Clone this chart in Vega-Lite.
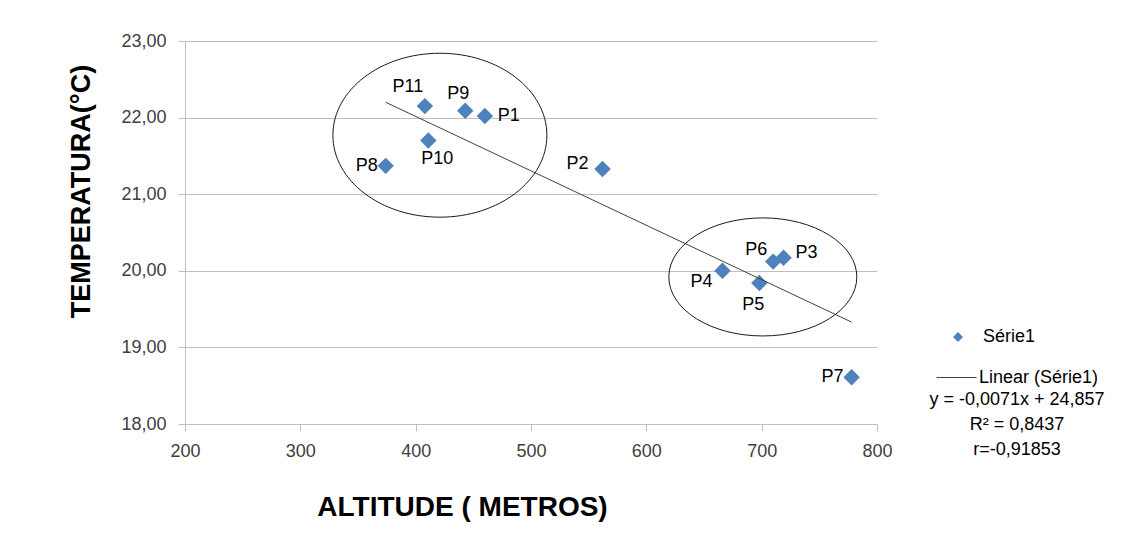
{
  "$schema": "https://vega.github.io/schema/vega-lite/v6.json",
  "width": 692,
  "height": 383,
  "autosize": {"type": "none"},
  "padding": {"left": 185, "top": 41, "right": 249, "bottom": 109},
  "background": "white",
  "config": {"view": {"stroke": null}, "font": "Liberation Sans"},
  "datasets": {
    "pontos": [
      {"ponto": "P1", "altitude": 460, "temperatura": 22.02, "serie": "Série1"},
      {"ponto": "P2", "altitude": 562, "temperatura": 21.33, "serie": "Série1"},
      {"ponto": "P3", "altitude": 719, "temperatura": 20.17, "serie": "Série1"},
      {"ponto": "P4", "altitude": 666, "temperatura": 20.00, "serie": "Série1"},
      {"ponto": "P5", "altitude": 698, "temperatura": 19.84, "serie": "Série1"},
      {"ponto": "P6", "altitude": 710, "temperatura": 20.12, "serie": "Série1"},
      {"ponto": "P7", "altitude": 778, "temperatura": 18.61, "serie": "Série1"},
      {"ponto": "P8", "altitude": 374, "temperatura": 21.37, "serie": "Série1"},
      {"ponto": "P9", "altitude": 443, "temperatura": 22.09, "serie": "Série1"},
      {"ponto": "P10", "altitude": 411, "temperatura": 21.70, "serie": "Série1"},
      {"ponto": "P11", "altitude": 408, "temperatura": 22.15, "serie": "Série1"}
    ],
    "tendencia": [
      {"altitude": 374, "temperatura": 22.20, "serie": "Linear (Série1)"},
      {"altitude": 778, "temperatura": 19.33, "serie": "Linear (Série1)"}
    ],
    "elipses": [
      {"grupo": "A", "altitude": 421, "temperatura": 21.77},
      {"grupo": "B", "altitude": 701, "temperatura": 19.92}
    ]
  },
  "data": {"name": "pontos"},
  "encoding": {
    "x": {
      "field": "altitude", "type": "quantitative",
      "scale": {"domain": [200, 800], "nice": false, "zero": false},
      "axis": {
        "values": [200, 300, 400, 500, 600, 700, 800],
        "grid": false, "labelFlush": false,
        "domainColor": "#BFBFBF", "tickColor": "#BFBFBF", "tickSize": 7,
        "labelFontSize": 18, "labelColor": "#404040", "labelPadding": 11,
        "title": "ALTITUDE ( METROS)", "titleFontSize": 28, "titleFontWeight": "bold",
        "titleColor": "#000000", "titleX": 277, "titleY": 91,
        "titleBaseline": "alphabetic", "titleAlign": "center"
      }
    },
    "y": {
      "field": "temperatura", "type": "quantitative",
      "scale": {"domain": [18, 23], "nice": false, "zero": false},
      "axis": {
        "values": [18, 19, 20, 21, 22, 23],
        "grid": true, "gridColor": "#BFBFBF", "labelFlush": false,
        "domainColor": "#BFBFBF", "tickColor": "#BFBFBF", "tickSize": 7,
        "labelPadding": 12, "labelFontSize": 18, "labelColor": "#404040",
        "labelExpr": "replace(format(datum.value, '.2f'), '.', ',')",
        "title": "TEMPERATURA(°C)", "titleFontSize": 27, "titleFontWeight": "bold",
        "titleColor": "#000000", "titleX": -96, "titleY": 150, "titleAngle": 270,
        "titleBaseline": "alphabetic", "titleAlign": "center"
      }
    }
  },
  "layer": [
    {
      "mark": {"type": "point", "shape": "diamond", "filled": true, "size": 270, "opacity": 1, "strokeWidth": 0},
      "encoding": {
        "color": {
          "field": "serie", "type": "nominal",
          "scale": {"domain": ["Série1"], "range": ["#4F81BD"]},
          "legend": {
            "orient": "none", "legendX": 764, "legendY": 287, "title": null,
            "symbolType": "diamond", "symbolSize": 100, "symbolStrokeWidth": 0,
            "labelFontSize": 18, "labelColor": "#000000", "labelOffset": 16, "padding": 0
          }
        }
      }
    },
    {
      "data": {"name": "tendencia"},
      "mark": {"type": "line", "strokeWidth": 1},
      "encoding": {
        "color": {
          "field": "serie", "type": "nominal",
          "scale": {"domain": ["Linear (Série1)"], "range": ["#404040"]},
          "legend": {
            "orient": "none", "legendX": 744, "legendY": 316,
            "title": ["y = -0,0071x + 24,857", "R² = 0,8437", "r=-0,91853"],
            "titleOrient": "bottom", "titleAnchor": "middle", "titleAlign": "center",
            "titleFontSize": 18, "titleFontWeight": "normal", "titleColor": "#000000",
            "titleLineHeight": 25, "titlePadding": 4,
            "symbolType": "stroke", "symbolSize": 1600, "symbolStrokeWidth": 1,
            "symbolStrokeColor": "#404040",
            "labelFontSize": 18, "labelColor": "#000000", "labelOffset": 2, "padding": 0
          }
        }
      }
    },
    {
      "data": {"name": "elipses"},
      "transform": [{"filter": "datum.grupo == 'A'"}],
      "mark": {
        "type": "point",
        "shape": "M1,0C1,0.423,0.552,0.766,0,0.766C-0.552,0.766,-1,0.423,-1,0C-1,-0.423,-0.552,-0.766,0,-0.766C0.552,-0.766,1,-0.423,1,0Z",
        "size": 45796, "filled": false, "stroke": "#1a1a1a", "strokeWidth": 1, "opacity": 1
      }
    },
    {
      "data": {"name": "elipses"},
      "transform": [{"filter": "datum.grupo == 'B'"}],
      "mark": {
        "type": "point",
        "shape": "M1,0C1,0.347,0.552,0.628,0,0.628C-0.552,0.628,-1,0.347,-1,0C-1,-0.347,-0.552,-0.628,0,-0.628C0.552,-0.628,1,-0.347,1,0Z",
        "size": 35344, "filled": false, "stroke": "#1a1a1a", "strokeWidth": 1, "opacity": 1
      }
    },
    {"transform": [{"filter": "datum.ponto == 'P11'"}], "mark": {"type": "text", "fontSize": 18, "color": "#000000", "baseline": "middle", "align": "center", "dx": -17, "dy": -19}, "encoding": {"text": {"field": "ponto"}}},
    {"transform": [{"filter": "datum.ponto == 'P9'"}], "mark": {"type": "text", "fontSize": 18, "color": "#000000", "baseline": "middle", "align": "center", "dx": -7, "dy": -17}, "encoding": {"text": {"field": "ponto"}}},
    {"transform": [{"filter": "datum.ponto == 'P1'"}], "mark": {"type": "text", "fontSize": 18, "color": "#000000", "baseline": "middle", "align": "left", "dx": 13, "dy": 0}, "encoding": {"text": {"field": "ponto"}}},
    {"transform": [{"filter": "datum.ponto == 'P10'"}], "mark": {"type": "text", "fontSize": 18, "color": "#000000", "baseline": "middle", "align": "center", "dx": 9, "dy": 18}, "encoding": {"text": {"field": "ponto"}}},
    {"transform": [{"filter": "datum.ponto == 'P8'"}], "mark": {"type": "text", "fontSize": 18, "color": "#000000", "baseline": "middle", "align": "right", "dx": -8, "dy": 0}, "encoding": {"text": {"field": "ponto"}}},
    {"transform": [{"filter": "datum.ponto == 'P2'"}], "mark": {"type": "text", "fontSize": 18, "color": "#000000", "baseline": "middle", "align": "right", "dx": -14, "dy": -5}, "encoding": {"text": {"field": "ponto"}}},
    {"transform": [{"filter": "datum.ponto == 'P4'"}], "mark": {"type": "text", "fontSize": 18, "color": "#000000", "baseline": "middle", "align": "right", "dx": -10, "dy": 11}, "encoding": {"text": {"field": "ponto"}}},
    {"transform": [{"filter": "datum.ponto == 'P5'"}], "mark": {"type": "text", "fontSize": 18, "color": "#000000", "baseline": "middle", "align": "center", "dx": -6, "dy": 22}, "encoding": {"text": {"field": "ponto"}}},
    {"transform": [{"filter": "datum.ponto == 'P6'"}], "mark": {"type": "text", "fontSize": 18, "color": "#000000", "baseline": "middle", "align": "center", "dx": -17, "dy": -12}, "encoding": {"text": {"field": "ponto"}}},
    {"transform": [{"filter": "datum.ponto == 'P3'"}], "mark": {"type": "text", "fontSize": 18, "color": "#000000", "baseline": "middle", "align": "left", "dx": 12, "dy": -5}, "encoding": {"text": {"field": "ponto"}}},
    {"transform": [{"filter": "datum.ponto == 'P7'"}], "mark": {"type": "text", "fontSize": 18, "color": "#000000", "baseline": "middle", "align": "right", "dx": -8, "dy": 0}, "encoding": {"text": {"field": "ponto"}}}
  ],
  "resolve": {"scale": {"color": "independent"}, "legend": {"color": "independent"}}
}
